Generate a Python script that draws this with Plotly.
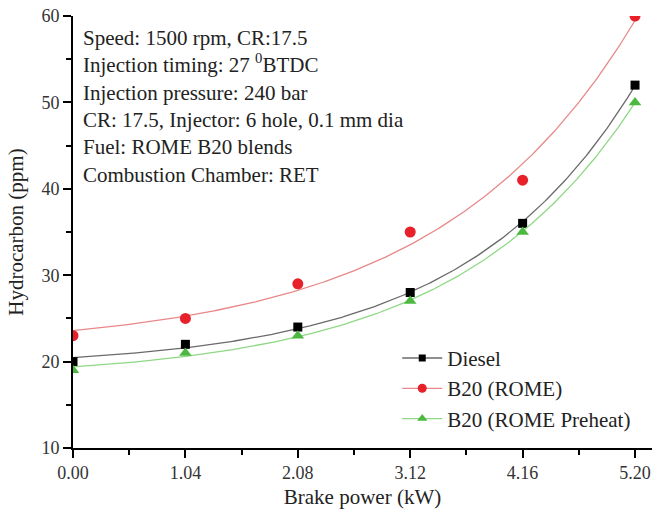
import numpy as np
import plotly.graph_objects as go

brake_power = [0.00, 1.04, 2.08, 3.12, 4.16, 5.20]
tick_labels = ["0.00", "1.04", "2.08", "3.12", "4.16", "5.20"]
diesel = [20, 22, 24, 28, 36, 52]
b20_rome = [23, 25, 29, 35, 41, 60]
b20_preheat = [19, 21, 23, 27, 35, 50]

series = [
    ("Diesel", diesel, "black", "#6a6a6a", "square", 9),
    ("B20 (ROME)", b20_rome, "#e8202a", "#e88888", "circle", 11),
    ("B20 (ROME Preheat)", b20_preheat, "#4db840", "#8ed884", "triangle-up", 11),
]


def exp_grow_fit(x, y):
    """Fit y = y0 + A*exp(x/t) by least squares (grid over t)."""
    x = np.asarray(x, float)
    y = np.asarray(y, float)
    best = None
    for t in np.linspace(0.3, 20, 4000):
        M = np.column_stack([np.ones_like(x), np.exp(x / t)])
        coef, *_ = np.linalg.lstsq(M, y, rcond=None)
        err = np.sum((M @ coef - y) ** 2)
        if best is None or err < best[0]:
            best = (err, coef, t)
    _, (y0, A), t = best
    return lambda xx: y0 + A * np.exp(np.asarray(xx) / t)


font_family = "Liberation Serif"
fig = go.Figure()
xs = np.linspace(brake_power[0], brake_power[-1], 300)
for name, vals, mcol, lcol, sym, size in series:
    f = exp_grow_fit(brake_power, vals)
    fig.add_trace(go.Scatter(x=xs, y=f(xs), mode="lines",
                             line=dict(color=lcol, width=1.3),
                             showlegend=False, hoverinfo="skip"))
    fig.add_trace(go.Scatter(x=brake_power, y=vals, mode="markers",
                             marker=dict(color=mcol, symbol=sym, size=size),
                             showlegend=False, name=name))
    # legend entry (line + marker)
    fig.add_trace(go.Scatter(x=[None], y=[None], mode="lines+markers", name=name,
                             line=dict(color=lcol, width=1.3),
                             marker=dict(color=mcol, symbol=sym, size=size - 2)))

notes = ["Speed: 1500 rpm, CR:17.5",
         "Injection timing: 27 <sup>0</sup>BTDC",
         "Injection pressure: 240 bar",
         "CR: 17.5, Injector: 6 hole, 0.1 mm dia",
         "Fuel: ROME B20 blends",
         "Combustion Chamber: RET"]
fig.add_annotation(text="<br>".join(notes), xref="paper", yref="paper",
                   x=0.014, y=0.982, xanchor="left", yanchor="top",
                   align="left", showarrow=False,
                   font=dict(family=font_family, size=21, color="#222"))

axis_common = dict(showline=True, linecolor="black", linewidth=1.6,
                   ticks="outside", ticklen=8, tickwidth=1.6, tickcolor="black",
                   showgrid=False, zeroline=False, mirror=False,
                   tickfont=dict(family=font_family, size=18, color="#333"),
                   title_font=dict(family=font_family, size=21, color="#222"))

fig.update_xaxes(range=[0, 5.357], tickvals=brake_power, ticktext=tick_labels,
                 title_text="Brake power (kW)", title_standoff=7,
                 minor=dict(ticks="outside", ticklen=5, tickwidth=1.6,
                            tickcolor="black", dtick=0.52, tick0=0),
                 **axis_common)
fig.update_yaxes(range=[10, 60], tickvals=[10, 20, 30, 40, 50, 60],
                 title_text="Hydrocarbon (ppm)", title_standoff=12,
                 minor=dict(ticks="outside", ticklen=5, tickwidth=1.6,
                            tickcolor="black", dtick=5, tick0=0),
                 **axis_common)

fig.update_layout(
    width=654, height=517,
    margin=dict(l=73, r=2, t=16, b=69, autoexpand=False),
    plot_bgcolor="white", paper_bgcolor="white",
    legend=dict(x=0.56, y=0.255, xanchor="left", yanchor="top",
                bgcolor="rgba(0,0,0,0)",
                font=dict(family=font_family, size=21, color="#222"),
                tracegroupgap=0, itemwidth=40),
    font=dict(family=font_family),
)

fig.write_html("out.html", config={"displayModeBar": False},
               post_script="document.body.style.margin='0px';")
